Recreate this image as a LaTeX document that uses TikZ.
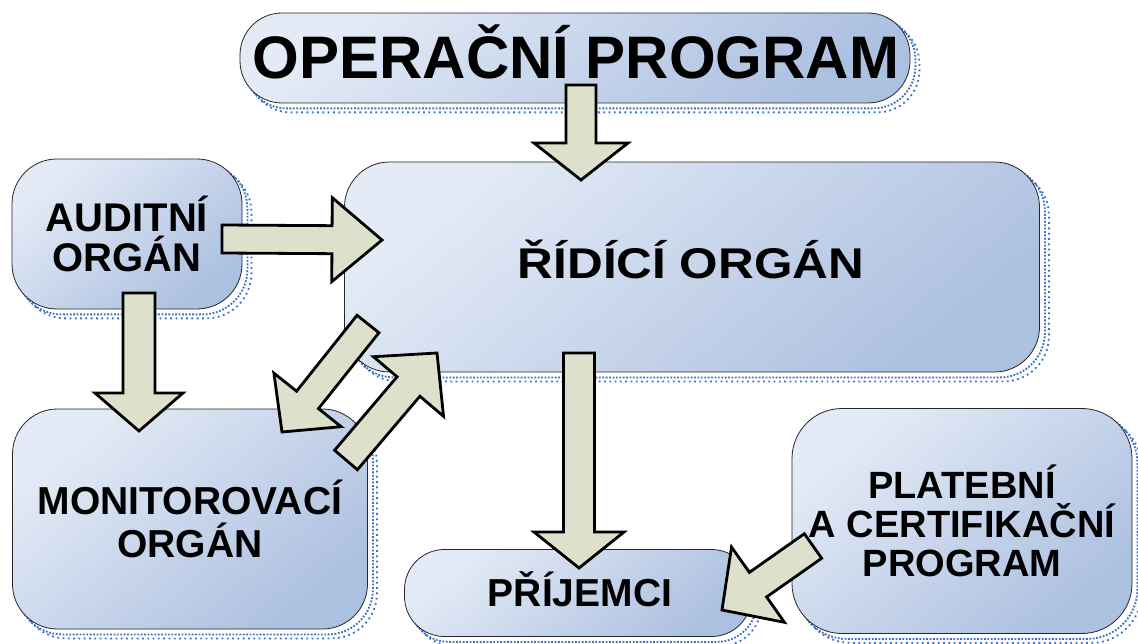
\documentclass[tikz,border=0pt]{standalone}
\usepackage{fontspec}
\setmainfont{Liberation Sans}
\usetikzlibrary{calc}
\pgfdeclarelayer{bg}
\pgfsetlayers{bg,main}
\definecolor{boxlight}{RGB}{228,235,246}
\definecolor{boxdark}{RGB}{172,192,224}
\definecolor{arrowfill}{RGB}{221,225,203}
\definecolor{shadowblue}{RGB}{60,110,200}
\tikzset{
  organbox/.style={draw=black!85, line width=0.8pt, rounded corners=#1,
    top color=boxlight, bottom color=boxdark, shading angle=40,
    inner sep=0pt, align=center},
  organbox/.default=45pt,
  shadowline/.style={draw=shadowblue, line width=1.8pt, dash pattern=on 1.8pt off 1.6pt},
  blockarrow/.style={draw=black, line width=2.8pt, fill=arrowfill, line join=miter, miter limit=10}
}
\newcommand\fs[2]{\fontsize{#1}{#2}\selectfont\bfseries}
\newcommand\blockarr[5]{%
  \coordinate (#1h) at ($(#2)!#5!(#1)$);
  \draw[blockarrow] ($(#1)!#3!90:(#2)$) -- ($(#1h)!#3!90:(#2)$) -- ($(#1h)!#4!90:(#2)$) -- (#2)
    -- ($(#1h)!#4!-90:(#2)$) -- ($(#1h)!#3!-90:(#2)$) -- ($(#1)!#3!-90:(#2)$) -- cycle;}
\newcommand\boxshadow[2]{%
  \draw[shadowline, rounded corners=#2] ([xshift=5pt,yshift=-5pt]#1.south west) rectangle ([xshift=5pt,yshift=-5pt]#1.north east);
  \draw[shadowline, rounded corners=#2, dash pattern=on 1.8pt off 3.5pt] ([xshift=9pt,yshift=-9pt]#1.south west) rectangle ([xshift=9pt,yshift=-9pt]#1.north east);}
\begin{document}
\begin{tikzpicture}[x=1pt,y=-1pt]
\useasboundingbox (0,0) rectangle (1138,644);
% boxes
\node[organbox=42pt, minimum width=670pt, minimum height=90pt] (op) at (575,58) {};
\node[font=\fs{60}{60}] (opt) at (576,52) {OPERAČNÍ PROGRAM};
\node[organbox=45pt, minimum width=230pt, minimum height=150pt, font=\fs{40}{40}] (aud) at (127,234) {AUDITNÍ\\ORGÁN};
\node[organbox=45pt, minimum width=695pt, minimum height=210pt] (rid) at (692,267) {};
\node[font=\fs{43}{43}] (ridt) at (691,259) {\scalebox{1.15}[1]{ŘÍDÍCÍ ORGÁN}};
\node[organbox=45pt, minimum width=355pt, minimum height=220pt, font=\fs{39}{43}] (mon) at (190,519) {MONITOROVACÍ\\ORGÁN};
\node[organbox=40pt, minimum width=347pt, minimum height=87pt] (pri) at (578,593) {};
\node[font=\fs{39}{39}] (prit) at (580,589) {PŘÍJEMCI};
\node[organbox=50pt, minimum width=340pt, minimum height=225pt, font=\fs{38}{39}] (pla) at (962,521) {PLATEBNÍ\\A CERTIFIKAČNÍ\\PROGRAM};
% background and shadows
\begin{pgfonlayer}{bg}
\fill[white] (0,0) rectangle (1138,644);
\boxshadow{op}{42pt}
\boxshadow{aud}{45pt}
\boxshadow{rid}{45pt}
\boxshadow{mon}{45pt}
\boxshadow{pri}{40pt}
\boxshadow{pla}{50pt}
\end{pgfonlayer}
% arrow end points
\coordinate (a1t) at (581,85);   \coordinate (a1e) at (581,180);
\coordinate (a2t) at (222,239);  \coordinate (a2e) at (382,240);
\coordinate (a3t) at (139,293);  \coordinate (a3e) at (139,431);
\coordinate (a4t) at (368,324);  \coordinate (a4e) at (282,432);
\coordinate (a5t) at (346,460);  \coordinate (a5e) at (437,353);
\coordinate (a6t) at (579,353);  \coordinate (a6e) at (579,568);
\coordinate (a7t) at (813,546);  \coordinate (a7e) at (722,610);
\blockarr{a1t}{a1e}{15pt}{47pt}{37pt}
\blockarr{a2t}{a2e}{14pt}{42pt}{50pt}
\blockarr{a3t}{a3e}{16pt}{44pt}{38pt}
\blockarr{a4t}{a4e}{14pt}{43pt}{41pt}
\blockarr{a5t}{a5e}{15pt}{46pt}{44pt}
\blockarr{a6t}{a6e}{15.5pt}{45pt}{36pt}
\blockarr{a7t}{a7e}{15pt}{46pt}{44pt}
\end{tikzpicture}
\end{document}
